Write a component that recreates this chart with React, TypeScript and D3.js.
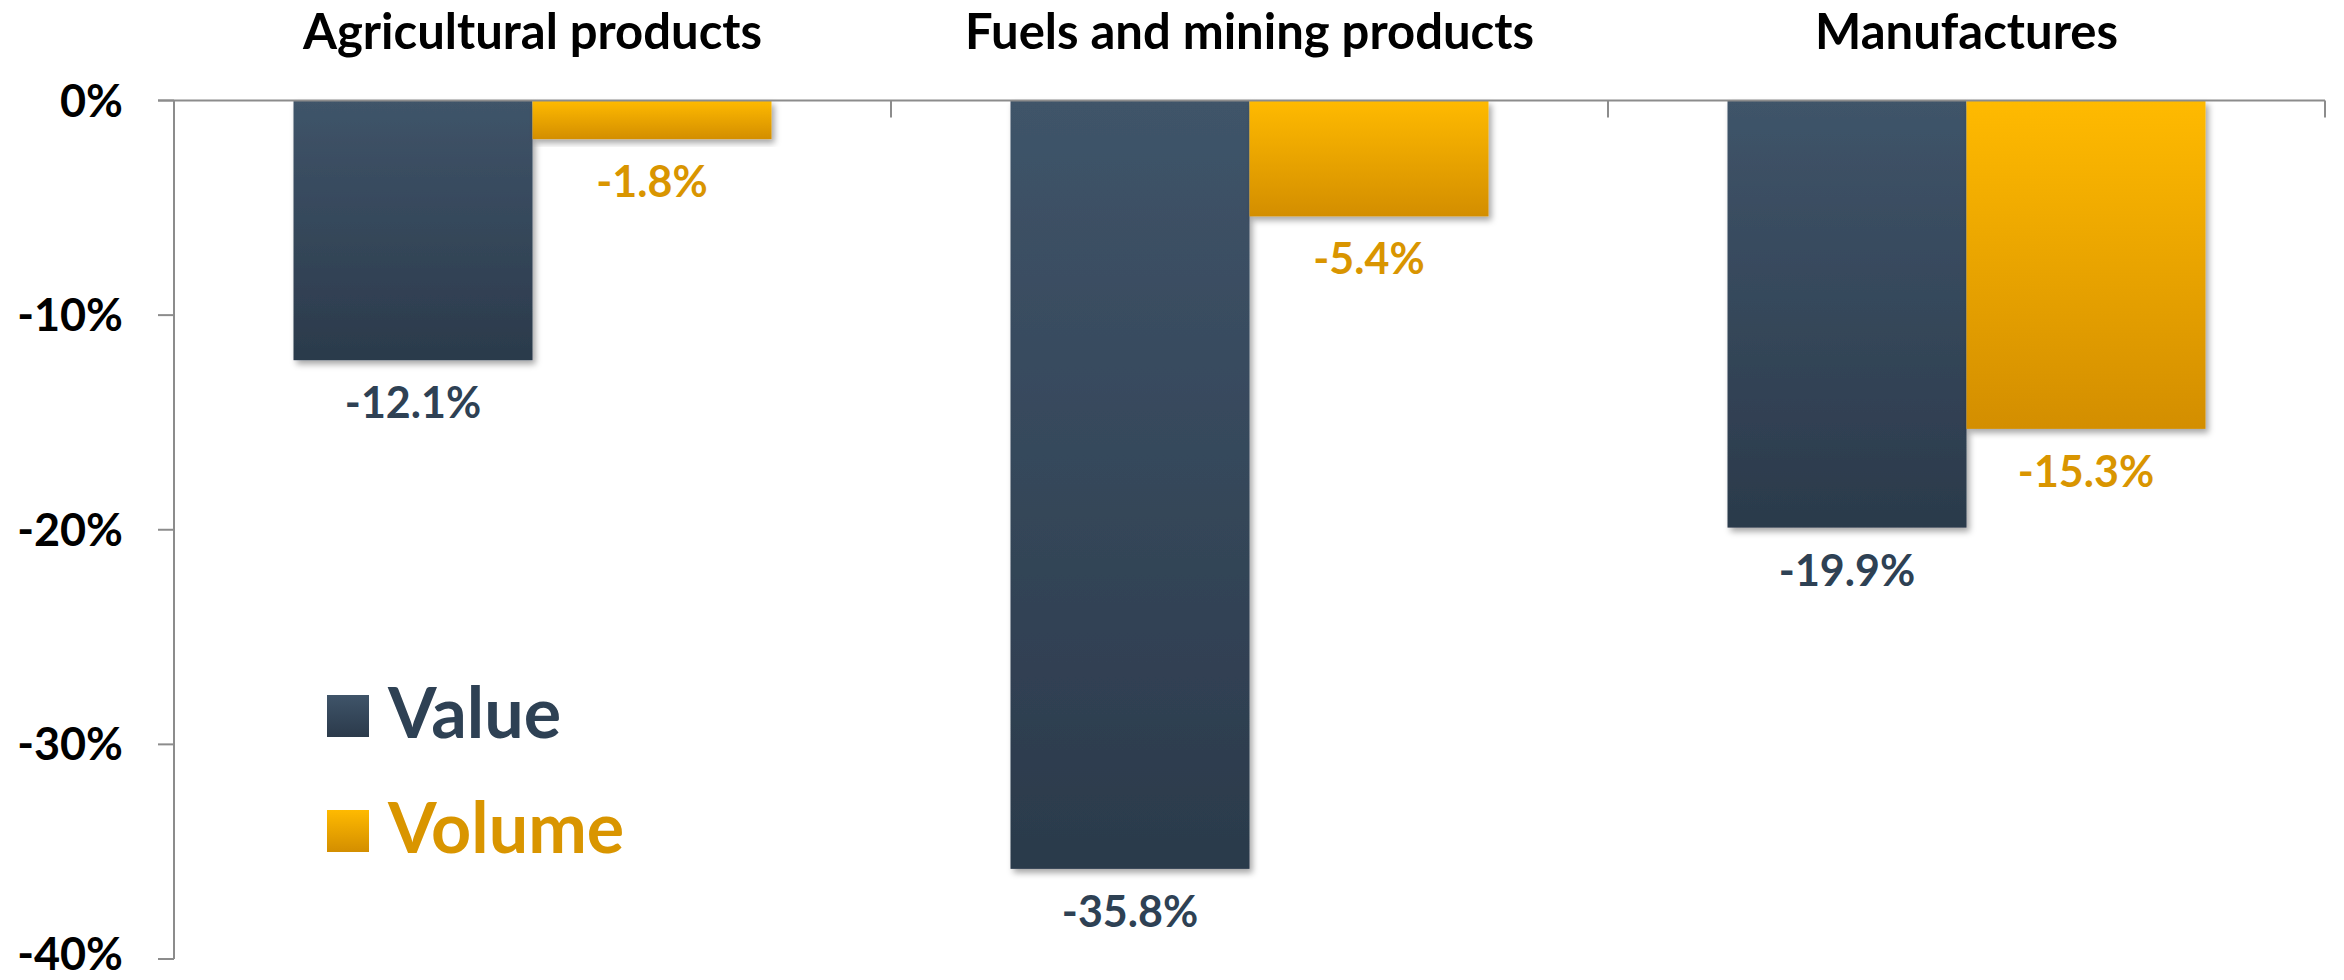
import React from "react";
import * as d3 from "d3";

const categories = ["Agricultural products", "Fuels and mining products", "Manufactures"];
const seriesNames = ["Value", "Volume"];
const valueData = [-12.1, -35.8, -19.9];
const volumeData = [-1.8, -5.4, -15.3];
const yTicks = [0, -10, -20, -30, -40];

const W = 2344;
const H = 980;
const FONT = "Lato, 'Open Sans', sans-serif";

const colors: Record<string, { top: string; bottom: string; text: string }> = {
  Value: { top: "#3F5469", bottom: "#2B3A4B", text: "#2E4154" },
  Volume: { top: "#FFBA00", bottom: "#D38E00", text: "#D99500" },
};

export default function App() {
  const x = d3.scaleBand<string>().domain(categories).range([174, 2325]).paddingInner(0).paddingOuter(0);
  const xi = d3.scaleBand<string>().domain(seriesNames).range([0, x.bandwidth()]).paddingInner(0).paddingOuter(0.5);
  const y = d3.scaleLinear().domain([0, -40]).range([100.5, 959]);

  const seriesValues: Record<string, number[]> = { Value: valueData, Volume: volumeData };
  const axisColor = "#8C8C8C";
  const y0 = y(0);
  const xLeft = x.range()[0];
  const xRight = x.range()[1];

  return (
    <svg width={W} height={H} style={{ position: "absolute", left: 0, top: 0, background: "#fff" }}>
      <defs>
        {seriesNames.map((s) => (
          <linearGradient key={s} id={`grad-${s}`} x1="0" y1="0" x2="0" y2="1">
            <stop offset="0%" stopColor={colors[s].top} />
            <stop offset="100%" stopColor={colors[s].bottom} />
          </linearGradient>
        ))}
        <filter id="shadow" x="-10%" y="-10%" width="130%" height="130%">
          <feDropShadow dx="3" dy="4" stdDeviation="3" floodColor="#000" floodOpacity="0.35" />
        </filter>
      </defs>

      {/* Category titles */}
      {categories.map((c) => (
        <text
          key={c}
          x={(x(c) as number) + x.bandwidth() / 2}
          y={49}
          textAnchor="middle"
          fontFamily={FONT}
          fontWeight={700}
          fontSize={49}
          fill="#000"
        >
          {c}
        </text>
      ))}

      {/* Bars */}
      {categories.map((c, ci) =>
        seriesNames.map((s) => {
          const v = seriesValues[s][ci];
          const bx = (x(c) as number) + (xi(s) as number);
          return (
            <rect
              key={c + s}
              x={bx}
              y={y0}
              width={xi.bandwidth()}
              height={y(v) - y0}
              fill={`url(#grad-${s})`}
              filter="url(#shadow)"
            />
          );
        })
      )}

      {/* Data labels */}
      {categories.map((c, ci) =>
        seriesNames.map((s) => {
          const v = seriesValues[s][ci];
          const bx = (x(c) as number) + (xi(s) as number) + xi.bandwidth() / 2;
          return (
            <text
              key={"l" + c + s}
              x={bx}
              y={y(v) + 58}
              textAnchor="middle"
              fontFamily={FONT}
              fontWeight={700}
              fontSize={43}
              fill={colors[s].text}
            >
              {v.toFixed(1) + "%"}
            </text>
          );
        })
      )}

      {/* Axes */}
      <line x1={158} x2={xRight} y1={y0} y2={y0} stroke={axisColor} strokeWidth={2} />
      <line x1={xLeft} x2={xLeft} y1={y0} y2={y(-40)} stroke={axisColor} strokeWidth={2} />
      {yTicks.map((t) => (
        <g key={t}>
          <line x1={158} x2={xLeft} y1={y(t)} y2={y(t)} stroke={axisColor} strokeWidth={2} />
          <text
            x={123}
            y={Math.min(y(t) + 16, H - 10)}
            textAnchor="end"
            fontFamily={FONT}
            fontWeight={700}
            fontSize={45}
            fill="#000"
          >
            {t + "%"}
          </text>
        </g>
      ))}
      {categories.map((c) => {
        const tx = (x(c) as number) + x.bandwidth();
        return <line key={"t" + c} x1={tx} x2={tx} y1={y0} y2={y0 + 17} stroke={axisColor} strokeWidth={2} />;
      })}

      {/* Legend */}
      {seriesNames.map((s, i) => (
        <g key={"lg" + s} transform={`translate(327, ${695 + i * 115})`}>
          <rect x={0} y={0} width={42} height={42} fill={`url(#grad-${s})`} />
          <text x={61} y={43} fontFamily={FONT} fontWeight={700} fontSize={70} fill={colors[s].text}>
            {s}
          </text>
        </g>
      ))}
    </svg>
  );
}
